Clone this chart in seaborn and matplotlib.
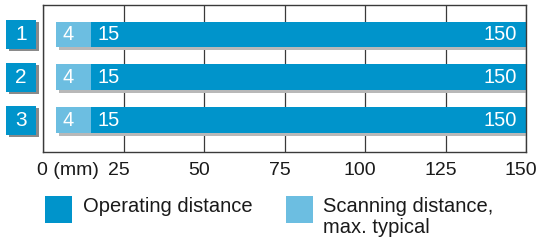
import matplotlib
matplotlib.use('Agg')
import matplotlib.pyplot as plt
import matplotlib.patheffects as pe
from matplotlib.patches import Rectangle
from matplotlib.transforms import blended_transform_factory, ScaledTranslation
import seaborn as sns

# --- dane ---
rows = ["1", "2", "3"]
scan_min = [4, 4, 4]        # scanning distance start (mm)
op_min = [15, 15, 15]       # operating distance start (mm)
op_max = [150, 150, 150]    # operating distance end (mm)
ticks = [0, 25, 50, 75, 100, 125, 150]
tick_labels = ["0 (mm)", "25", "50", "75", "100", "125", "150"]
legend_labels = ["Operating distance", "Scanning distance,\nmax. typical"]

DARK = "#0094CB"
LIGHT = "#6CBEE1"
SHADOW = "#b8b8b8"
EDGE = "#3a3a3a"

sns.set_theme(style="white")
plt.rcParams['font.family'] = ['Liberation Sans', 'DejaVu Sans']

W, H = 545, 250
fig = plt.figure(figsize=(W / 100, H / 100), dpi=100)
ax = fig.add_axes([43 / W, 1 - 152 / H, (526 - 43) / W, (152 - 5) / H])

light_w = [b - a for a, b in zip(scan_min, op_min)]
dark_w = [b - a for a, b in zip(op_min, op_max)]
sns.barplot(x=light_w, y=rows, left=scan_min, orient='h', errorbar=None,
            color=LIGHT, saturation=1, width=0.6, linewidth=0, ax=ax)
sns.barplot(x=dark_w, y=rows, left=op_min, orient='h', errorbar=None,
            color=DARK, saturation=1, width=0.6, linewidth=0, ax=ax)

for p in ax.patches:
    p.set_path_effects([pe.SimplePatchShadow(offset=(2.2, -2.2), shadow_rgbFace=SHADOW, alpha=1.0),
                        pe.Normal()])

# etykiety na paskach
for i in range(len(rows)):
    ax.annotate(str(scan_min[i]), (scan_min[i], i), xytext=(4.5, 0), textcoords='offset points',
                ha='left', va='center', color='white', fontsize=14.5)
    ax.annotate(str(op_min[i]), (op_min[i], i), xytext=(4.5, 0), textcoords='offset points',
                ha='left', va='center', color='white', fontsize=14.5)
    ax.annotate(str(op_max[i]), (op_max[i], i), xytext=(-6.5, 0), textcoords='offset points',
                ha='right', va='center', color='white', fontsize=14.5)

ax.set_xlim(0, 150)
ax.set_ylim(2 + 32 / 43, -29.5 / 43)
ax.set_yticks([])
ax.set_ylabel("")
ax.set_xticks(ticks)
ax.set_xticklabels(tick_labels, fontsize=14, color='#1a1a1a')
ax.tick_params(axis='x', length=0, pad=7)
lbls = ax.get_xticklabels()
lbls[0].set_horizontalalignment('left')
lbls[0].set_transform(lbls[0].get_transform() + ScaledTranslation(-6 / 100, 0, fig.dpi_scale_trans))
for lb in lbls[1:]:
    lb.set_transform(lb.get_transform() + ScaledTranslation(-5 / 100, 0, fig.dpi_scale_trans))

ax.grid(axis='x', color=EDGE, linewidth=0.9)
ax.grid(axis='y', visible=False)
ax.set_axisbelow(True)
for s in ax.spines.values():
    s.set_visible(True)
    s.set_color(EDGE)
    s.set_linewidth(1.0)

# numerowane kwadraty po lewej
tr = blended_transform_factory(fig.transFigure, ax.transData)
bh = 29 / 43
for i, r in enumerate(rows):
    box = Rectangle((6 / W, i - bh / 2), 30 / W, bh, transform=tr, facecolor=DARK,
                    edgecolor='none', clip_on=False)
    box.set_path_effects([pe.SimplePatchShadow(offset=(1.8, -1.8), shadow_rgbFace='#8a8a8a', alpha=1.0),
                          pe.Normal()])
    fig.add_artist(box)
    fig.text(21 / W, i, r, transform=tr, ha='center', va='center', color='white', fontsize=15)

# legenda
for (x0, tx, col, lab) in [(45, 83, DARK, legend_labels[0]), (286, 323, LIGHT, legend_labels[1])]:
    fig.add_artist(Rectangle((x0 / W, 1 - 223 / H), 27 / W, 27 / H, transform=fig.transFigure,
                             facecolor=col, edgecolor='none'))
    fig.text(tx / W, 1 - 197 / H, lab, ha='left', va='top', fontsize=14.5, color='#1a1a1a',
             linespacing=1.15)

fig.savefig('out.png', dpi=100)
